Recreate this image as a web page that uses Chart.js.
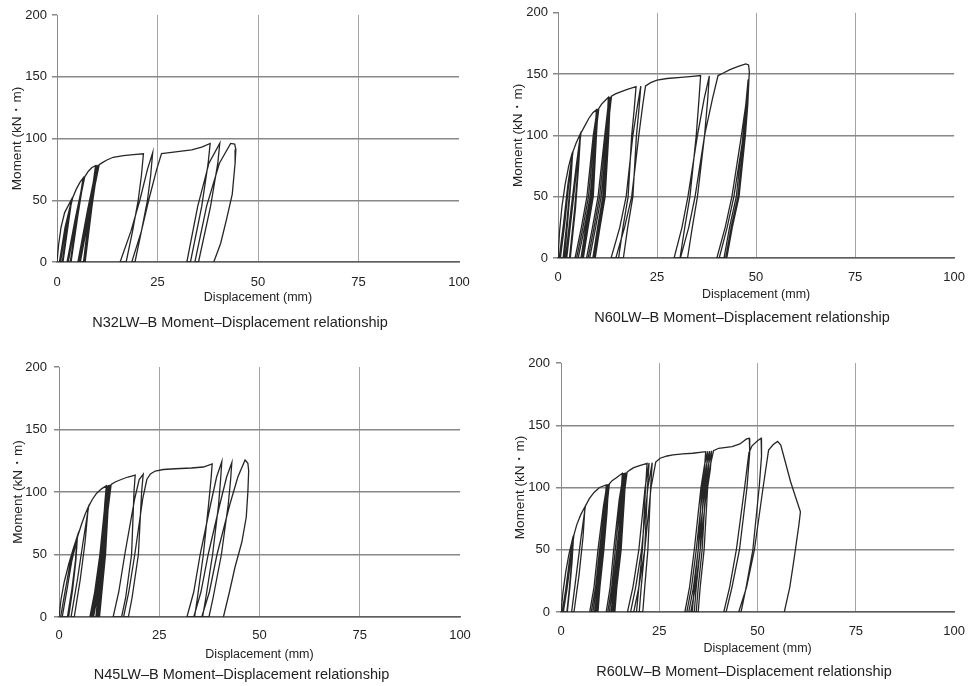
<!DOCTYPE html>
<html>
<head>
<meta charset="utf-8">
<script src="https://cdn.jsdelivr.net/npm/chart.js@4.4.1/dist/chart.umd.min.js"></script>
<style>
  body { margin: 0; background: #fff; }
  #wrap { position: relative; width: 977px; height: 686px; overflow: hidden; }
  #wrap canvas { position: absolute; }
</style>
</head>
<body>
<div id="wrap">
  <canvas id="c1" width="488" height="340" style="left:0;top:0"></canvas>
  <canvas id="c2" width="489" height="340" style="left:488px;top:0"></canvas>
  <canvas id="c3" width="488" height="346" style="left:0;top:340px"></canvas>
  <canvas id="c4" width="489" height="346" style="left:488px;top:340px"></canvas>
</div>
<script>
// eixos
const xTicks = [0, 25, 50, 75, 100];
const yTicks = [0, 50, 100, 150, 200];
const xLabel = 'Displacement (mm)';
const yLabel = 'Moment (kN・m)';

const titles = [
  'N32LW–B Moment–Displacement relationship',
  'N60LW–B Moment–Displacement relationship',
  'N45LW–B Moment–Displacement relationship',
  'R60LW–B Moment–Displacement relationship'
];

// curvas [deslocamento mm, momento kN.m]
const n32Curve = [
  [0,0],[0.4,14],[1.0,28],[1.9,40],[3.5,50],
  [2.4,26],[1.3,0],[0.6,0],[2.0,28],[3.7,51],
  [2.6,26],[1.5,0],[0.9,0],[2.2,28],[3.9,52],
  [4.8,59],[5.7,64.5],[6.5,68],
  [5.0,38],[3.3,0],[2.5,0],[4.6,36],[6.7,68.5],
  [5.2,38],[3.5,0],[2.8,0],[4.8,36],[6.9,69],
  [7.8,73.5],[8.7,76.5],[9.6,78],
  [8.2,45],[6.6,0],[5.2,0],[7.6,42],[9.9,78.3],
  [8.4,45],[6.8,0],[5.5,0],[7.9,42],[10.2,78.6],
  [8.7,45],[7.0,0],[5.8,0],[8.2,42],[10.5,78.8],
  [11.3,80.5],[12.4,82.6],[14.0,84.8],[16.5,86.2],[19.0,87],[21.5,87.6],
  [21.0,70],[20.2,50],[18.8,25],[17.2,0],[15.7,0],[18.4,25],[20.6,50],[22.5,75],[23.8,88.5],
  [23.3,70],[22.5,50],[21.0,25],[19.4,0],[18.6,0],[21.0,25],[22.8,50],[24.8,75],[26.0,87.8],
  [27.5,88.4],[30.5,89.6],[33.5,90.8],[36.0,93],[38.1,96],
  [37.6,80],[36.0,45],[33.2,0],[32.3,0],[35.0,45],[37.8,80],[40.5,96.3],
  [40.0,80],[38.2,45],[35.2,0],[34.3,0],[37.2,45],[40.4,80],[43.2,96],
  [44.2,95.5],[44.5,91],[44.3,80],[43.6,55],[42.2,35],[40.7,15],[39.0,0]
];

const n60Curve = [
  [0,0],[0.4,22],[1.0,42],[1.8,60],[2.7,75],[3.6,86],
  [3.1,60],[2.2,28],[1.3,0],[0.3,0],[1.4,28],[2.5,60],[3.7,86.5],
  [3.2,60],[2.4,28],[1.6,0],[0.6,0],[1.7,28],[2.7,60],[3.8,87],
  [4.6,94],[5.6,101],
  [5.1,75],[4.2,40],[2.9,0],[1.9,0],[3.3,40],[4.6,75],[5.7,101.5],
  [5.2,75],[4.4,40],[3.1,0],[2.2,0],[3.6,40],[4.8,75],[5.8,102],
  [6.8,108],[7.8,114],[8.8,118.5],[9.7,121],
  [9.3,100],[8.4,50],[7.0,25],[5.8,0],[4.3,0],[5.9,25],[7.3,50],[8.9,100],[9.9,121.3],
  [9.5,100],[8.6,50],[7.3,25],[6.1,0],[4.7,0],[6.3,25],[7.7,50],[9.2,100],[10.1,121.6],
  [9.7,100],[8.9,50],[7.6,25],[6.4,0],[5.1,0],[6.7,25],[8.1,50],[9.5,100],[10.3,122],
  [11.0,125.5],[11.9,128.5],[12.7,131],
  [12.3,100],[11.3,50],[10.0,25],[8.8,0],[7.2,0],[8.7,25],[10.1,50],[11.8,100],[12.9,131.3],
  [12.5,100],[11.6,50],[10.3,25],[9.1,0],[7.6,0],[9.1,25],[10.5,50],[12.1,100],[13.2,131.6],
  [12.8,100],[11.9,50],[10.6,25],[9.4,0],[8.0,0],[9.5,25],[10.9,50],[12.4,100],[13.5,132],
  [14.5,133.8],[15.8,135.5],[17.5,137.5],[19.7,139.8],
  [19.2,120],[18.6,100],[17.7,50],[16.4,25],[15.3,0],[13.4,0],[15.6,25],[17.2,50],[18.9,100],[20.1,125],[20.9,140.2],
  [20.4,120],[19.8,100],[18.9,50],[17.6,25],[16.5,0],[14.6,0],[16.8,25],[18.6,50],[20.4,100],[21.4,125],[22.1,140.3],
  [23.4,143],[25.0,145],[27.5,146.4],[31.0,147.4],[34.0,148.2],[36.0,148.8],
  [35.6,130],[34.9,100],[33.3,50],[32.0,25],[30.8,0],[29.3,0],[31.3,25],[32.8,50],[35.2,100],[36.9,130],[38.2,148.5],
  [37.8,130],[37.0,100],[35.2,50],[33.9,25],[32.7,0],[30.9,0],[33.0,25],[34.6,50],[37.0,100],[39.0,130],[40.4,148.8],
  [41.5,150.5],[43.4,153.6],[45.5,156.3],[47.4,158.3],[48.1,157.5],[48.3,152],[48.2,146],
  [47.5,125],[46.7,100],[45.0,50],[43.3,25],[41.9,0],[40.1,0],[42.2,25],[43.9,50],[46.3,100],[47.4,125],[48.0,145.5],
  [47.7,125],[47.0,100],[45.4,50],[43.7,25],[42.3,0],[40.7,0],[42.7,25],[44.4,50],[46.8,100],[47.8,125],[48.2,146],
  [47.9,125],[47.3,100],[45.7,50],[44.0,25],[42.6,0]
];

const n45Curve = [
  [0,0],[0.5,14],[1.3,28],[2.4,42],[3.5,54],[4.5,64],
  [4.1,45],[3.2,22],[2.1,0],[0.4,0],[1.6,22],[2.9,45],[4.6,64.5],
  [4.2,45],[3.4,22],[2.4,0],[0.8,0],[2.0,22],[3.2,45],[4.7,65],
  [5.6,74],[6.5,82],[7.3,88],
  [6.5,60],[5.3,30],[3.8,0],[3.0,0],[4.6,30],[6.0,60],[7.4,88.5],
  [8.3,94],[9.4,99],[10.6,102.5],[11.8,105],
  [11.4,90],[10.7,50],[9.8,20],[9.2,0],[7.7,0],[8.9,20],[10.2,50],[11.3,85],[12.1,105.3],
  [11.7,90],[11.0,50],[10.1,20],[9.5,0],[8.0,0],[9.2,20],[10.5,50],[11.6,85],[12.4,105.6],
  [12.0,90],[11.3,50],[10.4,20],[9.8,0],[8.3,0],[9.5,20],[10.8,50],[11.9,85],[12.7,105.8],
  [12.3,90],[11.6,50],[10.7,20],[10.1,0],[8.6,0],[9.8,20],[11.1,50],[12.2,85],[13.0,106],
  [14.0,108],[15.5,110],[17.2,112],[19.0,113.6],
  [18.7,100],[18.1,50],[16.6,15],[15.6,0],[13.5,0],[14.9,20],[16.4,50],[18.9,95],[20.0,110],[21.0,114.3],
  [20.6,100],[19.8,50],[18.2,15],[17.3,0],[16.1,0],[17.4,20],[18.9,50],[20.9,95],[21.9,110],[22.8,114.5],
  [24.0,116.8],[26.0,118],[29.0,118.6],[33.0,119.2],[36.0,120],[38.2,122.5],
  [37.9,110],[37.3,90],[36.0,50],[34.5,15],[33.8,0],[31.9,0],[33.6,20],[35.2,50],[37.8,90],[39.3,112],[40.6,124.3],
  [40.3,110],[39.8,90],[38.3,50],[36.6,15],[35.8,0],[33.6,0],[35.4,20],[37.2,50],[40.1,90],[41.8,112],[43.1,123.5],
  [42.8,110],[42.2,90],[40.5,50],[38.4,15],[37.4,0],[35.6,0],[37.5,20],[39.4,50],[42.6,90],[44.6,112],[46.4,125.6],
  [47.1,123],[47.3,117],[47.1,100],[46.7,80],[45.6,60],[43.9,40],[42.5,20],[41.0,0]
];

const r60Curve = [
  [0,0],[0.5,16],[1.2,32],[2.0,46],[3.1,61],
  [2.7,40],[2.1,18],[1.5,0],[0.3,0],[1.2,18],[2.1,40],[3.2,61.5],
  [2.8,40],[2.2,18],[1.6,0],[0.6,0],[1.5,18],[2.4,40],[3.3,62],
  [4.0,70],[5.0,78],[6.1,84.5],
  [5.6,60],[4.6,30],[3.3,0],[2.7,0],[3.9,30],[5.1,60],[6.2,85],
  [7.2,91],[8.4,96],[9.8,100],[11.5,102],
  [11.1,80],[10.3,50],[9.3,20],[8.8,0],[7.3,0],[8.4,20],[9.4,50],[10.8,85],[11.7,102.3],
  [11.3,80],[10.5,50],[9.5,20],[9.0,0],[7.7,0],[8.8,20],[9.8,50],[11.1,85],[11.9,102.5],
  [11.5,80],[10.7,50],[9.7,20],[9.2,0],[8.1,0],[9.1,20],[10.1,50],[11.4,85],[12.1,102.7],
  [11.7,80],[10.9,50],[9.9,20],[9.4,0],[8.5,0],[9.4,20],[10.4,50],[11.7,85],[12.3,103],
  [13.0,105.5],[13.9,107.4],[15.6,111.4],
  [15.2,90],[14.4,50],[13.3,20],[12.8,0],[11.5,0],[12.5,20],[13.4,50],[14.8,90],[15.9,111.6],
  [15.5,90],[14.7,50],[13.6,20],[13.1,0],[11.9,0],[12.9,20],[13.8,50],[15.1,90],[16.2,111.8],
  [15.8,90],[15.0,50],[13.9,20],[13.4,0],[12.3,0],[13.2,20],[14.2,50],[15.5,90],[16.5,112],
  [16.1,90],[15.3,50],[14.2,20],[13.7,0],[12.7,0],[13.6,20],[14.6,50],[15.9,90],[16.8,112.2],
  [17.5,114],[18.5,115.9],[20.2,117.8],[21.9,119.4],
  [21.5,100],[20.7,50],[19.8,20],[19.2,0],[16.9,0],[18.3,20],[19.8,50],[21.4,100],[22.4,119.7],
  [22.0,100],[21.3,50],[20.4,20],[19.9,0],[17.7,0],[19.0,20],[20.5,50],[22.1,100],[23.2,120],
  [22.8,100],[22.1,50],[21.3,20],[20.8,0],[18.5,0],[19.8,20],[21.3,50],[22.9,100],[24.1,120.4],
  [25.2,123.5],[27.0,125.3],[28.5,126.2],[31.0,127],[33.5,127.5],[36.8,128.8],
  [36.5,115],[35.8,100],[34.9,50],[33.9,20],[33.4,0],[31.5,0],[32.7,20],[33.9,50],[35.6,100],[36.5,118],[37.3,129],
  [37.0,115],[36.3,100],[35.4,50],[34.4,20],[33.9,0],[32.0,0],[33.2,20],[34.4,50],[36.1,100],[37.0,118],[37.8,129.2],
  [37.5,115],[36.8,100],[35.9,50],[34.9,20],[34.4,0],[32.5,0],[33.7,20],[34.9,50],[36.6,100],[37.5,118],[38.3,129.4],
  [38.0,115],[37.3,100],[36.4,50],[35.4,20],[34.9,0],[33.0,0],[34.2,20],[35.4,50],[37.1,100],[38.0,118],[38.8,129.6],
  [40.1,131.5],[43.5,132.8],[45.5,135],[47.2,139],[47.9,139.5],
  [48.0,128],[47.3,100],[45.4,50],[43.5,20],[42.0,0],[41.4,0],[42.9,20],[44.6,50],[46.7,100],[47.8,128],[48.6,133.5],[50.0,137.5],[50.9,139.5],
  [51.0,125],[50.4,100],[48.8,50],[47.1,20],[45.8,0],[45.2,0],[47.2,20],[49.2,50],[51.4,100],[52.8,130],[54.0,134.5],[55.1,137],
  [55.9,134],[56.8,123.5],[58.4,104.6],[59.7,92],[60.9,80.5],[60.5,69.8],[59.3,43],[58.2,20],[56.8,0]
];

// posicao de cada painel na folha
const panels = [
  { id: 'c1', curve: n32Curve, title: titles[0], padL: 0, padTop: 15, padRight: 8, rightW: 21, yW: 57, yTitlePad: 9, yTickPad: 5, xH: 43, xTickPad: 13, tTop: 9.3, tBottom: 8.3 },
  { id: 'c2', curve: n60Curve, title: titles[1], padL: 19, padTop: 11, padRight: 0, rightW: 18, yW: 51, yTitlePad: 3, yTickPad: 5, xH: 44, xTickPad: 12, tTop: 7.3, tBottom: 13.3 },
  { id: 'c3', curve: n45Curve, title: titles[2], padL: 0, padTop: 27, padRight: 5, rightW: 23, yW: 59, yTitlePad: 10, yTickPad: 7, xH: 45, xTickPad: 11, tTop: 4.3, tBottom: 2.3 },
  { id: 'c4', curve: r60Curve, title: titles[3], padL: 23, padTop: 23, padRight: 0, rightW: 15, yW: 50, yTitlePad: 1, yTickPad: 6, xH: 44, xTickPad: 12, tTop: 7.3, tBottom: 5.3 }
];

const fontFamily = "'Liberation Sans', Arial, sans-serif";

function makeChart(p) {
  const ctx = document.getElementById(p.id).getContext('2d');
  return new Chart(ctx, {
    type: 'scatter',
    data: {
      datasets: [{
        data: p.curve.map(pt => ({ x: pt[0], y: pt[1] })),
        showLine: true,
        borderColor: '#262626',
        borderWidth: 1.3,
        pointRadius: 0,
        pointHoverRadius: 0,
        tension: 0
      }]
    },
    options: {
      responsive: false,
      animation: false,
      events: [],
      layout: { padding: { left: p.padL, top: p.padTop, right: p.padRight, bottom: 0 } },
      plugins: {
        legend: { display: false },
        tooltip: { enabled: false },
        title: {
          display: true,
          position: 'bottom',
          text: p.title,
          color: '#222',
          font: { family: fontFamily, size: 14.5, weight: 'normal' },
          padding: { top: p.tTop, bottom: p.tBottom }
        }
      },
      scales: {
        x: {
          type: 'linear',
          min: 0, max: 100,
          afterBuildTicks: s => { s.ticks = xTicks.map(v => ({ value: v })); },
          afterFit: s => { s.height = p.xH; },
          ticks: { color: '#222', padding: p.xTickPad, font: { family: fontFamily, size: 13 } },
          grid: {
            drawTicks: false,
            lineWidth: 1,
            color: c => (c.tick && c.tick.value === 100) ? 'rgba(0,0,0,0)' : '#a3a3a3'
          },
          border: { color: '#5e5e5e', width: 1.4 },
          title: {
            display: true, text: xLabel, color: '#222',
            font: { family: fontFamily, size: 12.5 },
            padding: { top: 0, bottom: 0 }
          }
        },
        y: {
          type: 'linear',
          min: 0, max: 200,
          afterBuildTicks: s => { s.ticks = yTicks.map(v => ({ value: v })); },
          afterFit: s => { s.width = p.yW; },
          ticks: { color: '#222', padding: p.yTickPad, font: { family: fontFamily, size: 13 } },
          grid: {
            drawTicks: true,
            tickLength: 5,
            tickColor: '#888',
            lineWidth: 1.5,
            color: c => (c.tick && c.tick.value === 200) ? 'rgba(0,0,0,0)' : '#888'
          },
          border: { color: '#8a8a8a', width: 1 },
          title: {
            display: true, text: yLabel, color: '#222',
            font: { family: fontFamily, size: 13.5 },
            padding: { top: p.yTitlePad, bottom: 0 }
          }
        },
        // espaco vazio a direita, so para centrar o titulo como no original
        yR: {
          type: 'linear',
          position: 'right',
          display: true,
          afterFit: s => { s.width = p.rightW; },
          ticks: { display: false },
          grid: { display: false, drawTicks: false },
          border: { display: false }
        }
      }
    }
  });
}

panels.forEach(makeChart);
</script>
</body>
</html>
